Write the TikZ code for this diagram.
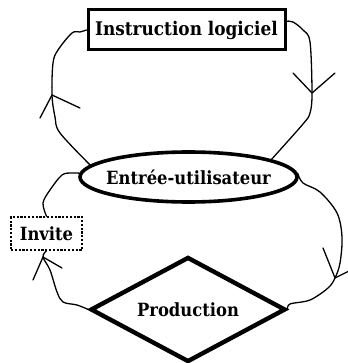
\documentclass[tikz,border=0pt]{standalone}
\usepackage{fontspec}
\newfontfamily\diafont{DejaVu Serif Condensed}[BoldFont={DejaVu Serif Condensed Bold}]
\usetikzlibrary{shapes.geometric}
\begin{document}
\begin{tikzpicture}[x=1pt,y=-1pt,
  lbl/.style={font=\diafont\bfseries\fontsize{18.2}{18.2}\selectfont},
  conn/.style={line width=1.3pt, line join=round, line cap=round},
  smoothp/.style={smooth, tension=0.55}]
\useasboundingbox (0,0) rectangle (347,363);
\node[draw, line width=3pt, minimum width=197pt, minimum height=40pt, inner sep=0pt,
      font=\diafont\bfseries\fontsize{18.8}{18.8}\selectfont] (box) at (186.5,30) {Instruction logiciel};
\node[draw, ellipse, line width=3.6pt, minimum width=217pt, minimum height=50pt, inner sep=0pt, lbl]
      (ell) at (188.5,177) {\makebox[0pt]{Entrée-utilisateur}};
\node[draw, dashed, dash pattern=on 2.2pt off 1.6pt, line width=1.5pt, minimum width=71pt,
      minimum height=33pt, inner sep=0pt, lbl] (inv) at (46.5,233.5) {Invite};
\node[draw, diamond, line width=4.4pt, minimum width=195pt, minimum height=105pt, inner sep=0pt, lbl]
      (prod) at (188,309.5) {\makebox[0pt]{Production}};
% arrow tip points
\coordinate (t1) at (52,95);
\coordinate (t2) at (312,93);
\coordinate (t3) at (335,278);
\coordinate (t4) at (43,257);
% connector 1: Entree -> Instruction
\draw[conn] plot[smoothp] coordinates {(ell.173) (60,133) (55,117) (t1) (53,63) (58,50) (72,33) (80,32) (box.west)};
\draw[conn] (t1) -- +(-12,23);
\draw[conn] (t1) -- +(28,13);
% connector 2: Instruction -> Entree
\draw[conn] plot[smoothp] coordinates {(box.5) (293,22) (303,30) (310,42) (t2) (310,113) (303,124) (ell.12)};
\draw[conn] (t2) -- +(-19,-20);
\draw[conn] (t2) -- +(23,-20);
% connector 3: Entree -> Production
\draw[conn] plot[smoothp] coordinates {(ell.2) (303,183) (320,192) (337,213) (342,237) (340,263) (t3) (328,288) (310,300) (290,304) (prod.east)};
\draw[conn] (t3) -- +(-12,-30);
\draw[conn] (t3) -- +(14,-7);
% connector 4: Production -> Invite
\draw[conn] plot[smoothp] coordinates {(prod.west) (77,305) (63,302) (57,292) (50,270) (t4) (inv.south)};
\draw[conn] (t4) -- +(-10,23);
\draw[conn] (t4) -- +(19,11);
% connector 5: Invite -- Entree
\draw[conn] plot[smoothp] coordinates {(inv.north) (43,203) (50,190) (62,175) (72,173) (ell.178)};
\end{tikzpicture}
\end{document}
